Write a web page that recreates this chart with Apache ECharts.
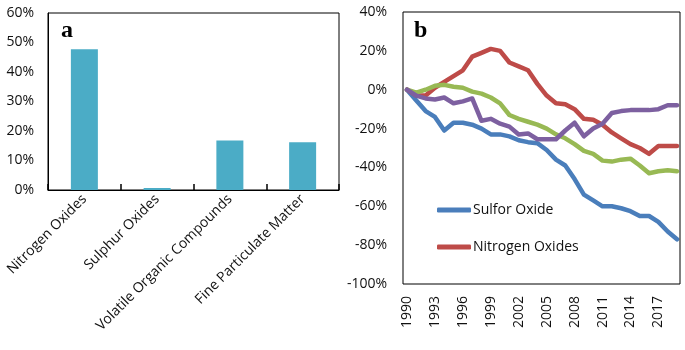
<!DOCTYPE html>
<html>
<head>
<meta charset="utf-8">
<script src="https://cdn.jsdelivr.net/npm/echarts@6/dist/echarts.min.js"></script>
<style>
  html, body { margin: 0; padding: 0; background: #fff; }
  #chart { width: 685px; height: 350px; }
</style>
</head>
<body>
<div id="chart"></div>
<script>
// panel a: share by pollutant (%)
const pollutants = ['Nitrogen Oxides', 'Sulphur Oxides', 'Volatile Organic Compounds', 'Fine Particulate Matter'];
const shares = [47.7, 0.6, 16.8, 16.2];

// panel b: change since 1990 (%)
const years = [];
for (let y = 1990; y <= 2019; y++) years.push(String(y));
const sulforOxide = [0, -5.5, -11, -14, -21, -17, -17, -18, -20, -23, -23, -24, -26, -27, -27.5,
  -31, -36, -39, -46, -54, -57, -60, -60, -61, -62.5, -65, -65, -68, -73, -77];
const nitrogenOxides = [0, -3, -3, 1, 4, 7, 10, 17, 19, 21, 20, 14, 12, 10, 3,
  -3, -7, -7.5, -10, -15, -15.5, -18, -22, -25, -28, -30, -33, -29, -29, -29];
const vocs = [0, -1.5, 0, 2, 2.5, 1.5, 1, -1, -2, -4, -7, -13, -15, -16.5, -18,
  -20, -23, -25, -28, -31.5, -33, -36.5, -37, -36, -35.5, -39, -43, -42, -41.5, -42];
const finePM = [0, -3, -4.5, -5, -4, -7, -6, -4.5, -16, -15, -17.5, -19, -23, -22.5, -25.5,
  -25.5, -25.5, -21, -17, -24, -20, -17.5, -12, -11, -10.5, -10.5, -10.5, -10, -8, -8];

const font = 'Open Sans';
const txt = '#111';

const lineSeries = (name, data, color) => ({
  name,
  type: 'line',
  xAxisIndex: 1,
  yAxisIndex: 1,
  data,
  symbol: 'none',
  lineStyle: { width: 4.5, color, cap: 'round', join: 'round' },
  itemStyle: { color },
});

const option = {
  animation: false,
  textStyle: { fontFamily: font },
  grid: [
    { left: 48, right: 346, top: 13, bottom: 160, show: true, borderColor: '#000', borderWidth: 1 },
    { left: 407, right: 8, top: 12, bottom: 66 },
  ],
  graphic: [
    {
      type: 'rect',
      shape: { x: 403, y: 12, width: 277, height: 272 },
      style: { fill: 'none', stroke: '#000', lineWidth: 1 },
      z: 100,
    },
  ],
  title: [
    { text: 'a', left: 56, top: 14, textStyle: { fontFamily: 'Liberation Serif', fontWeight: 'bold', fontSize: 24, color: '#000' } },
    { text: 'b', left: 409, top: 14, textStyle: { fontFamily: 'Liberation Serif', fontWeight: 'bold', fontSize: 24, color: '#000' } },
  ],
  legend: {
    data: ['Sulfor Oxide', 'Nitrogen Oxides'],
    orient: 'vertical',
    left: 432,
    top: 198,
    itemWidth: 34,
    itemHeight: 5,
    itemGap: 23,
    icon: 'roundRect',
    textStyle: { fontFamily: font, fontSize: 14, color: txt, padding: [0, 0, 0, -3] },
  },
  xAxis: [
    {
      type: 'category',
      gridIndex: 0,
      data: pollutants,
      axisLine: { lineStyle: { color: '#000' } },
      axisTick: { show: true, inside: true, length: 6, lineStyle: { color: '#000', width: 1.5 } },
      axisLabel: { rotate: 45, margin: 7, fontSize: 14, color: txt, fontFamily: font },
    },
    {
      type: 'category',
      gridIndex: 1,
      data: years,
      boundaryGap: false,
      axisLine: { show: false },
      axisTick: { show: false },
      axisLabel: { rotate: 90, interval: 2, margin: 12, fontSize: 14, color: txt, fontFamily: font },
    },
  ],
  yAxis: [
    {
      type: 'value',
      gridIndex: 0,
      min: 0,
      max: 60,
      interval: 10,
      axisLine: { show: true, lineStyle: { color: '#000' } },
      axisTick: { show: false },
      splitLine: { show: false },
      axisLabel: { formatter: '{value}%', fontSize: 14, color: txt, margin: 14, fontFamily: font },
    },
    {
      type: 'value',
      gridIndex: 1,
      min: -100,
      max: 40,
      interval: 20,
      axisLine: { show: false },
      axisTick: { show: false },
      splitLine: { show: false },
      axisLabel: { formatter: '{value}%', fontSize: 14, color: txt, margin: 20, fontFamily: font },
    },
  ],
  series: [
    {
      name: 'Share',
      type: 'bar',
      xAxisIndex: 0,
      yAxisIndex: 0,
      data: shares,
      barWidth: 27,
      barMinHeight: 2,
      itemStyle: { color: '#4BACC6' },
    },
    lineSeries('Sulfor Oxide', sulforOxide, '#4A7EBB'),
    lineSeries('Nitrogen Oxides', nitrogenOxides, '#BE4B48'),
    lineSeries('Volatile Organic Compounds', vocs, '#98B954'),
    lineSeries('Fine Particulate Matter', finePM, '#7D60A0'),
  ],
};

const myChart = echarts.init(document.getElementById('chart'));
myChart.setOption(option);
</script>
</body>
</html>
